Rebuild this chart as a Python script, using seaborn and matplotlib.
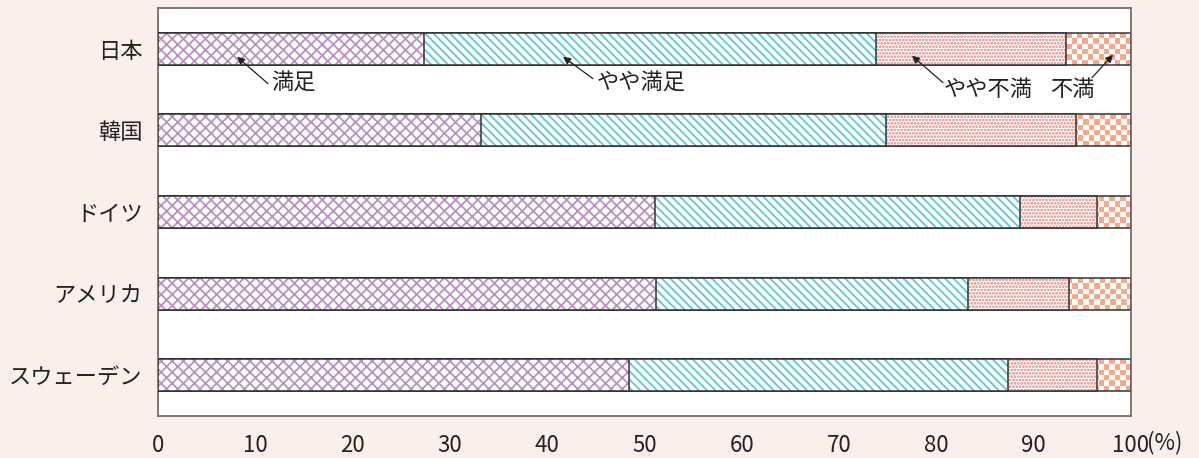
import numpy as np
import pandas as pd
import matplotlib
matplotlib.use("Agg")
import matplotlib.pyplot as plt
import seaborn as sns

countries = ["日本", "韓国", "ドイツ", "アメリカ", "スウェーデン"]
manzoku = [27.3, 33.2, 51.1, 51.2, 48.4]          # 満足
yaya_manzoku = [46.5, 41.6, 37.5, 32.0, 39.0]     # やや満足
yaya_fuman = [19.5, 19.5, 7.9, 10.4, 9.1]         # やや不満
fuman = [6.7, 5.7, 3.5, 6.4, 3.5]                 # 不満
series_names = ["満足", "やや満足", "やや不満", "不満"]
xticks = [0, 10, 20, 30, 40, 50, 60, 70, 80, 90, 100]

sns.set_theme(style="white")
plt.rcParams['font.family'] = ['Noto Sans CJK JP', 'DejaVu Sans']
plt.rcParams['hatch.linewidth'] = 1.3

BG = "#FBEFEB"
fig = plt.figure(figsize=(11.99, 4.58), dpi=100, facecolor=BG)
ax = fig.add_axes([158/1199, (458-416)/458, (1131-158)/1199, (416-8)/458])
ax.set_facecolor("white")

df = pd.DataFrame({"country": countries, "満足": manzoku, "やや満足": yaya_manzoku,
                   "やや不満": yaya_fuman, "不満": fuman})
cum = df[series_names].cumsum(axis=1)

styles = {
    "満足": dict(hatch="xxx", hc="#B891C2"),
    "やや満足": dict(hatch="\\\\\\\\", hc="#5EC6DC"),
    "やや不満": dict(hatch=".....", hc="#DF8078"),
    "不満": dict(hatch=None, hc="#F6A98A"),
}
bar_w = 0.39
z = 2
for name in reversed(series_names):
    st = styles[name]
    d = pd.DataFrame({"country": countries, "v": cum[name].values})
    n0 = len(ax.patches)
    if st["hatch"]:
        sns.barplot(data=d, x="v", y="country", orient="h", color="white", saturation=1,
                    width=bar_w, hatch=st["hatch"], edgecolor=st["hc"], linewidth=0,
                    zorder=z, ax=ax)
    else:
        sns.barplot(data=d, x="v", y="country", orient="h", color="white", saturation=1,
                    width=bar_w, linewidth=0, zorder=z, ax=ax)
        # checkerboard texture clipped to each bar
        for p in ax.patches[n0:]:
            x0, y0 = p.get_x(), p.get_y()
            w, h = p.get_width(), p.get_height()
            nx = int(round(w * 9.73 / 5.4))
            ny = 6
            grid = (np.add.outer(np.arange(ny), np.arange(nx)) % 2).astype(float)
            rgb = np.ones((ny, nx, 3))
            c = np.array(matplotlib.colors.to_rgb(st["hc"]))
            rgb[grid == 0] = c
            im = ax.imshow(rgb, extent=(x0, x0 + w, y0 + h, y0), aspect="auto",
                           interpolation="nearest", zorder=z + 0.1)
            im.set_clip_path(p)
    sns.barplot(data=d, x="v", y="country", orient="h", fill=False, saturation=1,
                width=bar_w, edgecolor="#333333", linewidth=1.1, zorder=z + 0.2, ax=ax)
    z += 1

ax.set_xlim(0, 100)
ax.set_ylim(4.5, -0.5)
ax.set_xlabel("")
ax.set_ylabel("")
ax.set_xticks(xticks)
ax.set_xticklabels([str(t) for t in xticks], fontsize=16, color="#222222")
ax.tick_params(axis="x", direction="in", length=5, width=1, color="#777777", pad=13)
ax.tick_params(axis="y", length=0, labelsize=16, labelcolor="#222222", pad=11)
for s in ax.spines.values():
    s.set_color("#666666")
    s.set_linewidth(1.2)
    s.set_visible(True)
ax.text(1.016, -0.066, "(%)", transform=ax.transAxes, ha="left", va="center",
        fontsize=16, color="#222222")

def px2d(px, py):
    return ((px - 158) / 9.73, (py - 49) / 82)

ann = [
    ("満足", (237, 57), (268, 84), (271, 83)),
    ("やや満足", (563, 57), (593, 79), (597, 83)),
    ("やや不満", (912, 56), (943, 83), (944, 90)),
    ("不満", (1113, 55), (1092, 78), (1050, 90)),
]
for label, head, tail, txt in ann:
    ax.annotate("", xy=px2d(*head), xytext=px2d(*tail),
                arrowprops=dict(arrowstyle="-|>", lw=0.9, color="#222222",
                                mutation_scale=11, shrinkA=0, shrinkB=0), zorder=20)
    ax.text(*px2d(*txt), label, ha="left", va="center", fontsize=16, color="#222222", zorder=20)

fig.savefig("out.png", dpi=100, facecolor=BG)
